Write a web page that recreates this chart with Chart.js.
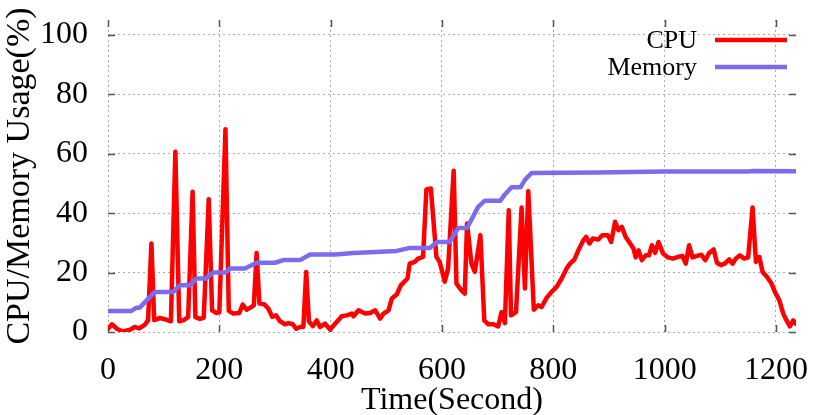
<!DOCTYPE html>
<html>
<head>
<meta charset="utf-8">
<script src="https://cdn.jsdelivr.net/npm/chart.js@4"></script>
<style>
  html, body { margin: 0; padding: 0; background: #fff; }
  #wrap { width: 830px; height: 415px; }
</style>
</head>
<body>
<div id="wrap"><canvas id="usageChart" width="830" height="415"></canvas></div>
<script>
// values
const cpuTime = [0, 7, 16, 26, 40, 48, 56, 66, 72, 78, 83, 93, 104, 113, 121, 128, 136, 144, 152, 157,
  165, 172, 181, 187, 195, 200, 211, 217, 225, 236, 242, 249, 256, 262, 267, 272, 281, 288, 295, 302,
  309, 318, 324, 332, 338, 345, 351, 356, 361, 368, 375, 381, 390, 399, 408, 420, 429, 438, 441, 450,
  462, 471, 480, 489, 495, 504, 510, 519, 526, 538, 542, 551, 557, 566, 572, 580, 590, 596, 605, 611,
  621, 626, 635, 641, 645, 653, 659, 669, 676, 683, 692, 701, 707, 713, 720, 724, 733, 743, 749, 755,
  765, 773, 779, 788, 797, 806, 815, 824, 830, 838, 845, 854, 859, 865, 871, 881, 888, 898, 904, 911,
  917, 923, 930, 938, 944, 948, 953, 959, 966, 972, 977, 983, 989, 997, 1006, 1015, 1024, 1032, 1038, 1044,
  1050, 1058, 1066, 1073, 1080, 1088, 1094, 1101, 1108, 1116, 1122, 1128, 1135, 1143, 1150, 1158, 1164, 1170, 1176, 1184,
  1192, 1198, 1206, 1213, 1219, 1225, 1231, 1236];
const cpuUsage = [1.1, 2.6, 1.1, 0.2, 0.8, 1.7, 1.2, 2.4, 3.9, 29.8, 4.0, 4.7, 4.2, 3.6, 60.7, 3.6, 4.0, 5.0, 47.2, 5.0,
  4.4, 4.8, 44.7, 7.3, 6.4, 6.6, 68.2, 7.1, 6.2, 6.4, 9.2, 7.5, 8.2, 9.0, 26.6, 9.6, 9.3, 7.9, 5.1, 5.6,
  3.6, 2.6, 3.0, 2.6, 1.1, 1.7, 1.7, 20.2, 3.6, 2.0, 3.9, 1.7, 2.8, 0.8, 2.8, 5.3, 5.6, 6.2, 5.3, 7.3,
  6.2, 6.4, 7.3, 4.5, 6.2, 7.3, 11.3, 12.7, 15.7, 18.0, 23.0, 23.6, 24.7, 25.3, 48.0, 48.3, 25.3, 23.5, 16.9, 21.4,
  54.3, 16.3, 14.0, 12.9, 36.5, 23.0, 20.2, 32.6, 3.9, 2.6, 2.6, 1.9, 6.7, 3.0, 41.0, 5.6, 6.7, 41.9, 14.6, 47.4,
  7.5, 9.0, 8.4, 11.5, 13.5, 15.2, 18.0, 21.4, 23.0, 24.4, 27.5, 30.9, 32.0, 29.8, 31.5, 31.1, 32.6, 32.6, 30.3, 37.1,
  34.3, 35.4, 32.0, 29.8, 28.1, 25.1, 27.5, 24.2, 25.8, 25.8, 29.2, 26.6, 30.3, 26.4, 25.1, 24.7, 25.3, 25.6, 23.0, 29.2,
  25.1, 25.6, 26.0, 24.2, 26.6, 27.8, 23.3, 22.5, 23.0, 24.4, 23.0, 24.7, 25.8, 24.7, 25.1, 41.9, 23.6, 25.3, 20.2, 18.5,
  16.3, 13.5, 10.7, 6.2, 3.9, 1.9, 3.9, 2.8];
const memTime = [0, 42, 51, 57, 84, 117, 129, 147, 159, 176, 189, 211, 219, 246, 267, 300, 315, 345, 363, 408,
  441, 519, 542, 578, 591, 614, 629, 645, 665, 677, 705, 713, 725, 741, 749, 761, 880, 1000, 1150, 1160, 1236];
const memUsage = [7.1, 7.1, 8.2, 8.2, 13.5, 13.5, 15.7, 15.7, 18.0, 18.0, 20.0, 20.0, 21.4, 21.4, 23.3, 23.3, 24.2, 24.2, 26.1, 26.1,
  26.6, 27.3, 28.3, 28.3, 30.3, 30.3, 35.0, 35.0, 42.1, 44.2, 44.2, 46.3, 48.7, 48.7, 51.2, 53.5, 53.7, 54.0, 54.0, 54.2, 54.1];
const xTicks = [0, 200, 400, 600, 800, 1000, 1200];
const yTicks = [0, 20, 40, 60, 80, 100];
const seriesNames = ['CPU', 'Memory'];
const seriesColors = ['#ff0000', '#7b6cee'];

const serif = '"Liberation Serif", "DejaVu Serif", serif';

function pairs(xs, ys) { return xs.map((x, i) => ({ x, y: ys[i] })); }

// gnuplot-style short tick marks inside the frame, on all four sides
const innerTicks = {
  id: 'innerTicks',
  beforeDatasetsDraw(chart) {
    const { ctx, chartArea: a, scales: { x, y } } = chart;
    const len = 7;
    ctx.save();
    ctx.strokeStyle = '#555';
    ctx.lineWidth = 1.5;
    ctx.beginPath();
    yTicks.forEach((v) => {
      const py = Math.round(y.getPixelForValue(v)) + 0.5;
      ctx.moveTo(a.left, py); ctx.lineTo(a.left + len, py);
      ctx.moveTo(a.right, py); ctx.lineTo(a.right - len, py);
    });
    xTicks.forEach((v) => {
      const px = Math.round(x.getPixelForValue(v)) + 0.5;
      ctx.moveTo(px, a.bottom); ctx.lineTo(px, a.bottom - len);
      ctx.moveTo(px, a.top); ctx.lineTo(px, a.top + len);
    });
    ctx.stroke();
    ctx.restore();
  },
};

// key at top right: label text on the left, line sample on the right
const rightKey = {
  id: 'rightKey',
  afterDraw(chart) {
    const { ctx } = chart;
    ctx.save();
    ctx.font = `26px ${serif}`;
    ctx.textAlign = 'right';
    ctx.textBaseline = 'middle';
    chart.data.datasets.forEach((ds, i) => {
      const yy = 40 + i * 27;
      ctx.fillStyle = '#000';
      ctx.fillText(ds.label, 697, yy + 1);
      ctx.strokeStyle = ds.borderColor;
      ctx.lineWidth = 4.5;
      ctx.beginPath();
      ctx.moveTo(715, yy); ctx.lineTo(787, yy);
      ctx.stroke();
    });
    ctx.restore();
  },
};

new Chart(document.getElementById('usageChart'), {
  type: 'line',
  data: {
    datasets: [
      { label: seriesNames[0], data: pairs(cpuTime, cpuUsage), borderColor: seriesColors[0], borderWidth: 4.5, order: 2 },
      { label: seriesNames[1], data: pairs(memTime, memUsage), borderColor: seriesColors[1], borderWidth: 4.5, order: 1 },
    ],
  },
  options: {
    responsive: false,
    animation: false,
    devicePixelRatio: 1,
    layout: { padding: { top: 20, right: 34, left: 0, bottom: 0 } },
    elements: {
      point: { radius: 0 },
      line: { tension: 0, fill: false, borderJoinStyle: 'round', borderCapStyle: 'round' },
    },
    plugins: { legend: { display: false }, tooltip: { enabled: false } },
    scales: {
      x: {
        type: 'linear',
        min: 0,
        max: 1236,
        afterBuildTicks: (s) => { s.ticks = xTicks.map((v) => ({ value: v })); },
        afterFit: (s) => { s.height = 83; s.paddingLeft = 0; s.paddingRight = 0; },
        ticks: { color: '#000', font: { family: serif, size: 32 }, padding: 19, maxRotation: 0, callback: (v) => String(v) },
        grid: { color: '#aaa', lineWidth: 1, drawTicks: false },
        border: { display: false, dash: [2, 3] },
        title: { display: true, text: 'Time(Second)', color: '#000', font: { family: serif, size: 32 }, padding: { top: 0, bottom: -5 } },
      },
      y: {
        min: 0,
        max: 105,
        afterBuildTicks: (s) => { s.ticks = yTicks.map((v) => ({ value: v })); },
        afterFit: (s) => { s.width = 108; s.paddingTop = 0; s.paddingBottom = 0; },
        ticks: { color: '#000', font: { family: serif, size: 32 }, padding: 20, callback: (v) => String(v) },
        grid: { color: '#aaa', lineWidth: 1, drawTicks: false },
        border: { display: false, dash: [2, 3] },
        title: { display: true, text: 'CPU/Memory Usage(%)', color: '#000', font: { family: serif, size: 34 }, padding: { top: 0, bottom: 0 } },
      },
    },
  },
  plugins: [innerTicks, rightKey],
});
</script>
</body>
</html>
